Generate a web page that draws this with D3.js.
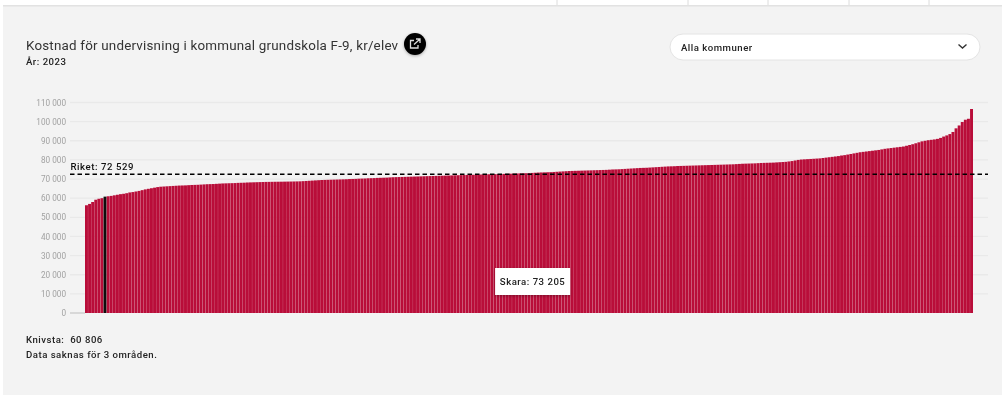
<!DOCTYPE html>
<html lang="sv"><head><meta charset="utf-8">
<script src="https://cdn.jsdelivr.net/npm/d3@7/dist/d3.min.js"></script>
<style>
html,body{margin:0;padding:0;background:#fff;overflow:hidden}
svg{display:block;font-family:Roboto,sans-serif;filter:blur(0.45px)}
</style></head><body><div id="chart"></div>
<script>
const costs = [
56300,57000,58000,59200,59700,60000,60806,61000,61200,61500,
61800,62100,62300,62600,63000,63200,63500,63800,64200,64600,
64900,65200,65500,65800,66000,66100,66200,66300,66400,66500,
66600,66650,66700,66800,66900,66950,67000,67100,67200,67300,
67350,67400,67500,67600,67700,67750,67800,67850,67900,68000,
68050,68100,68200,68250,68300,68350,68400,68450,68500,68520,
68550,68580,68600,68620,68650,68680,68700,68730,68760,68800,
68900,69000,69100,69200,69300,69400,69500,69550,69600,69650,
69700,69750,69800,69850,69900,70000,70050,70100,70200,70250,
70300,70400,70450,70500,70600,70650,70700,70750,70850,70950,
71000,71050,71100,71150,71200,71250,71300,71350,71400,71450,
71500,71550,71600,71650,71700,71750,71800,71850,71900,71950,
72000,72050,72100,72150,72200,72250,72300,72350,72400,72450,
72500,72530,72550,72600,72650,72700,72750,72800,72850,72900,
72950,73000,73050,73100,73205,73300,73400,73450,73500,73550,
73600,73700,73800,73900,74000,74100,74200,74250,74300,74350,
74400,74450,74500,74550,74600,74650,74700,74750,74800,74900,
75000,75050,75100,75200,75300,75400,75500,75600,75700,75800,
75850,75900,76000,76100,76200,76300,76400,76500,76600,76650,
76700,76800,76850,76900,76950,77000,77050,77100,77150,77200,
77250,77300,77350,77400,77450,77500,77550,77600,77650,77700,
77800,77900,78000,78050,78100,78150,78200,78300,78400,78450,
78500,78550,78600,78700,78800,78900,79000,79200,79400,79700,
80000,80200,80300,80400,80500,80600,80700,80800,81000,81200,
81400,81600,81800,82000,82300,82500,82800,83100,83400,83700,
84000,84200,84400,84600,84800,85000,85200,85500,85800,86000,
86200,86400,86600,86800,87000,87400,87800,88200,88700,89200,
89700,90000,90300,90500,90700,91000,91500,92200,92800,93500,
94600,96500,98000,99800,101000,101500,106600];
const yTicks = [0,10000,20000,30000,40000,50000,60000,70000,80000,90000,100000,110000];
const rikets = 72529;
const knivsta = 60806;
const skara = 73205;
const titleText = "Kostnad för undervisning i kommunal grundskola F-9, kr/elev";
const yearText = "År: 2023";
const selectText = "Alla kommuner";
const navSeparators = [557,688,768,849,929];

const fmt = v => d3.format(",")(v).replace(/,/g," ");
const W=1002,H=395;
const svg=d3.select("#chart").append("svg").attr("width",W).attr("height",H);
const defs=svg.append("defs");
const sh=defs.append("filter").attr("id","sh").attr("x","-30%").attr("y","-30%").attr("width","160%").attr("height","160%");
sh.append("feDropShadow").attr("dx",0).attr("dy",1).attr("stdDeviation",1.5).attr("flood-color","#000").attr("flood-opacity",.3);

// page frame
svg.append("rect").attr("x",3).attr("y",6).attr("width",W-3).attr("height",H-6).attr("fill","#f3f3f3");
svg.append("rect").attr("x",3).attr("y",5).attr("width",W-3).attr("height",1.5).attr("fill","#e2e2e2");
svg.selectAll("line.nav").data(navSeparators).join("line").attr("class","nav")
  .attr("x1",d=>d).attr("x2",d=>d).attr("y1",0).attr("y2",5).attr("stroke","#dcdcdc");

// scales
const x=d3.scaleBand().domain(d3.range(costs.length)).range([85,973]).paddingInner(.05).paddingOuter(0);
const y=d3.scaleLinear().domain([0,110000]).range([313,102.5]);

// grid
svg.append("g").selectAll("line").data(yTicks.slice(1)).join("line")
  .attr("x1",70).attr("x2",988).attr("y1",d=>y(d)).attr("y2",d=>y(d))
  .attr("stroke","#e9e9e9").attr("stroke-width",1.3);
svg.append("line").attr("x1",70).attr("x2",85).attr("y1",y(0)).attr("y2",y(0)).attr("stroke","#bdbdbd");

// axis
const ax=svg.append("g").attr("transform","translate(70,0)")
  .call(d3.axisLeft(y).tickValues(yTicks).tickFormat(fmt).tickSize(0).tickPadding(4));
ax.select(".domain").remove();
ax.selectAll("text").attr("fill","#a2a2a2").attr("font-size",8.2).attr("font-family","Roboto,sans-serif");

// bars
svg.append("g").selectAll("rect").data(costs).join("rect")
  .attr("x",(d,i)=>x(i)).attr("width",x.bandwidth())
  .attr("y",d=>y(d)).attr("height",d=>y(0)-y(d))
  .attr("fill",d=>d===knivsta?"#0d0d0d":"#b90d39");

// reference line
svg.append("line").attr("x1",70).attr("x2",988).attr("y1",y(rikets)).attr("y2",y(rikets))
  .attr("stroke","#000").attr("stroke-width",1.4).attr("stroke-dasharray","4.5 3");
svg.append("text").attr("x",70.5).attr("y",y(rikets)-4.5).attr("font-size",9.6).attr("font-weight",500)
  .attr("letter-spacing",.55).attr("fill","#111").text("Riket: "+fmt(rikets));

// tooltip
const tx=x(costs.indexOf(skara))+x.bandwidth()/2;
svg.append("rect").attr("x",tx-37).attr("y",268).attr("width",75).attr("height",27)
  .attr("fill","#fff").attr("filter","url(#sh)");
svg.append("text").attr("x",tx+.5).attr("y",285).attr("text-anchor","middle").attr("font-size",9.6)
  .attr("font-weight",500).attr("letter-spacing",.5).attr("fill","#222").text("Skara: "+fmt(skara));

// heading
svg.append("text").attr("x",26).attr("y",49.5).attr("font-size",13.4).attr("letter-spacing",.2).attr("fill","#333").text(titleText);
svg.append("text").attr("x",26).attr("y",65).attr("font-size",9.6).attr("font-weight",500).attr("letter-spacing",.5).attr("fill","#222").text(yearText);
const ic=svg.append("g").attr("transform","translate(415,44)");
ic.append("circle").attr("r",11).attr("fill","#050505").attr("filter","url(#sh)");
ic.append("path").attr("d","M-1 -3.500H-4.500V4H3V1M-1 .5L4.500 -4.500M1 -5H5V-1")
  .attr("fill","none").attr("stroke","#ddd").attr("stroke-width",1.3);

// select
svg.append("rect").attr("x",670).attr("y",34).attr("width",310).attr("height",26).attr("rx",13)
  .attr("fill","#fff").attr("stroke","#e4e4e4").attr("stroke-width",1);
svg.append("text").attr("x",681).attr("y",51).attr("font-size",9.6).attr("font-weight",500).attr("letter-spacing",.5).attr("fill","#222").text(selectText);
svg.append("path").attr("d","M958.500 44.500L962.500 48L966.500 44.500").attr("fill","none").attr("stroke","#333").attr("stroke-width",1.4);

// footer
svg.append("text").attr("x",26).attr("y",343).attr("font-size",9.6).attr("font-weight",500).attr("letter-spacing",.5).attr("fill","#222")
  .style("white-space","pre").text("Knivsta:  "+fmt(knivsta));
svg.append("text").attr("x",26).attr("y",358).attr("font-size",9.6).attr("font-weight",500).attr("letter-spacing",.5).attr("fill","#222").text("Data saknas för 3 områden.");
</script></body></html>
